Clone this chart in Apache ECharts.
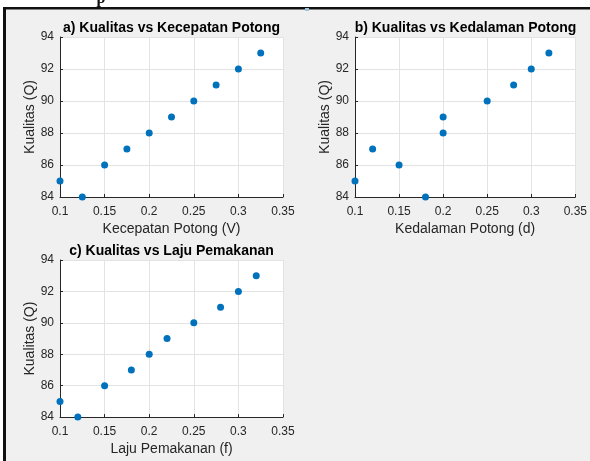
<!DOCTYPE html>
<html><head><meta charset="utf-8">
<script src="https://cdn.jsdelivr.net/npm/echarts@6/dist/echarts.min.js"></script>
<style>html,body{margin:0;padding:0;background:#fff}#c{width:590px;height:461px}</style>
</head><body><div id="c"></div>
<script>
// Data
const titles = ['a) Kualitas vs Kecepatan Potong', 'b) Kualitas vs Kedalaman Potong', 'c) Kualitas vs Laju Pemakanan'];
const xNames = ['Kecepatan Potong (V)', 'Kedalaman Potong (d)', 'Laju Pemakanan (f)'];
const yName = 'Kualitas (Q)';
const xA = [0.1, 0.125, 0.15, 0.175, 0.2, 0.225, 0.25, 0.275, 0.3, 0.325];
const yA = [85, 84, 86, 87, 88, 89, 90, 91, 92, 93];
const xB = [0.1, 0.12, 0.15, 0.18, 0.2, 0.2, 0.25, 0.28, 0.3, 0.32];
const yB = [85, 87, 86, 84, 88, 89, 90, 91, 92, 93];
const xC = [0.1, 0.12, 0.15, 0.18, 0.2, 0.22, 0.25, 0.28, 0.3, 0.32];
const yC = [85, 84, 86, 87, 88, 89, 90, 91, 92, 93];
const xTicks = [0.1, 0.15, 0.2, 0.25, 0.3, 0.35];
const yTicks = [84, 86, 88, 90, 92, 94];

const FONT = '"Liberation Sans", Arial, Helvetica, sans-serif';
const AX = '#262626';
const grids = [
  {left: 60, top: 37, width: 223, height: 160},
  {left: 355, top: 37, width: 221, height: 160},
  {left: 60, top: 260, width: 223, height: 159}
];
const xs = [xA, xB, xC], ys = [yA, yB, yC];

const xAxis = grids.map((g, i) => ({
  type: 'value', gridIndex: i, min: xTicks[0], max: xTicks[xTicks.length-1], interval: 0.05,
  name: xNames[i], nameLocation: 'middle', nameGap: 27,
  nameTextStyle: {fontFamily: FONT, fontSize: 14, color: AX, verticalAlign: 'middle', lineHeight: 14, padding: [7,0,0,0]},
  axisLine: {show: true, lineStyle: {color: AX, width: 1}},
  axisTick: {show: true, inside: true, length: 3, lineStyle: {color: AX}},
  axisLabel: {fontFamily: FONT, fontSize: 12, color: AX, margin: 9, formatter: v => String(+v.toFixed(2))},
  splitLine: {show: true, lineStyle: {color: '#e3e3e3', width: 1}}
}));
const yAxis = grids.map((g, i) => ({
  type: 'value', gridIndex: i, min: yTicks[0], max: yTicks[yTicks.length-1], interval: 2,
  name: yName, nameLocation: 'middle', nameGap: 23,
  nameTextStyle: {fontFamily: FONT, fontSize: 14, color: AX},
  axisLine: {show: true, lineStyle: {color: AX, width: 1}},
  axisTick: {show: true, inside: true, length: 3, lineStyle: {color: AX}},
  axisLabel: {fontFamily: FONT, fontSize: 12, color: AX, margin: 6},
  splitLine: {show: true, lineStyle: {color: '#e3e3e3', width: 1}}
}));
const series = grids.map((g, i) => ({
  type: 'scatter', xAxisIndex: i, yAxisIndex: i, symbolSize: 7,
  itemStyle: {color: '#0072BD', opacity: 1},
  data: xs[i].map((x, j) => [x, ys[i][j]])
}));

const chart = echarts.init(document.getElementById('c'), null, {renderer: 'canvas'});
chart.setOption({
  animation: false,
  backgroundColor: '#fff',
  grid: grids.map(g => Object.assign({show: true, backgroundColor: '#ffffff', borderWidth: 0}, g)),
  xAxis, yAxis, series,
  graphic: [
    {type: 'rect', silent: true, z: -10, shape: {x: 3, y: 8, width: 590, height: 461}, style: {fill: '#f0f0f0'}},
    {type: 'rect', silent: true, z: 100, shape: {x: 3, y: 7, width: 587, height: 2.5}, style: {fill: '#111'}},
    {type: 'rect', silent: true, z: 100, shape: {x: 3, y: 7, width: 3, height: 454}, style: {fill: '#111'}},
    {type: 'text', silent: true, z: 100, style: {text: 'p', x: 101, y: -9, font: 'bold 16px "Liberation Serif", serif', fill: '#111', textAlign: 'center'}},
    {type: 'rect', silent: true, z: 100, shape: {x: 305, y: 8, width: 4, height: 3}, style: {fill: '#9fc4e0'}},
    ...grids.map((g, i) => ({
      type: 'text', silent: true, z: 100,
      style: {text: titles[i], x: g.left + g.width/2, y: g.top - 9, textAlign: 'center', textVerticalAlign: 'middle',
        font: 'bold 14px ' + FONT, fill: '#000'}
    }))
  ]
});
</script></body></html>
